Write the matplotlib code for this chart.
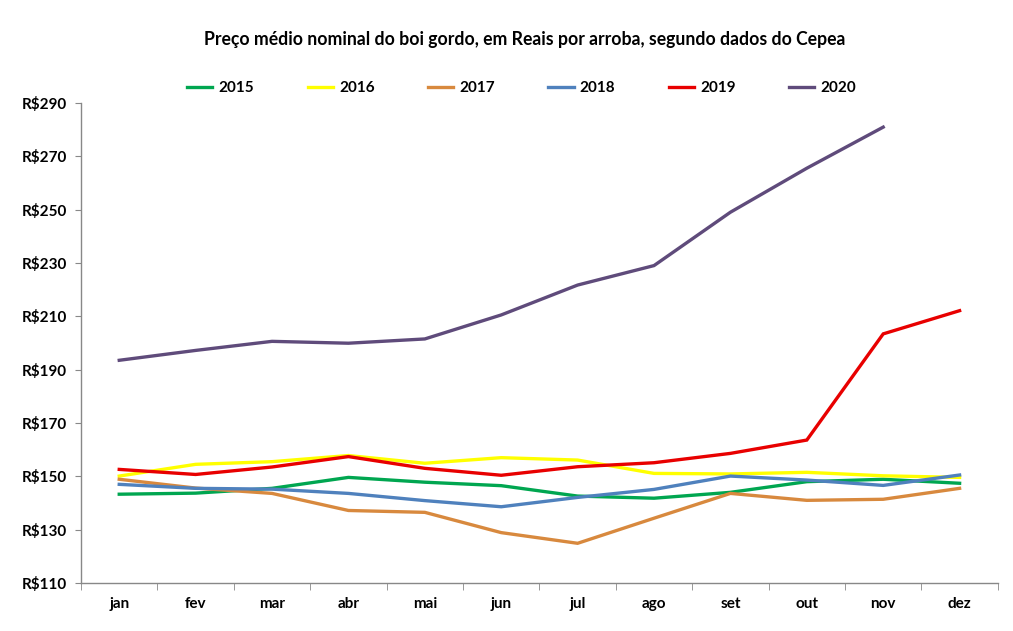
import numpy as np
import matplotlib
matplotlib.use("Agg")
import matplotlib.pyplot as plt
from matplotlib.ticker import FixedLocator

plt.rcParams['font.family'] = ['Lato', 'DejaVu Sans']

months = ['jan', 'fev', 'mar', 'abr', 'mai', 'jun', 'jul', 'ago', 'set', 'out', 'nov', 'dez']

p2015 = [143.3, 143.7, 145.5, 149.6, 147.8, 146.5, 142.6, 141.8, 144.0, 148.0, 148.9, 147.4]
p2016 = [150.1, 154.5, 155.5, 157.8, 154.9, 157.0, 156.1, 151.1, 150.9, 151.5, 150.2, 149.6]
p2017 = [148.9, 145.6, 143.6, 137.2, 136.5, 128.9, 124.9, 134.3, 143.6, 141.0, 141.4, 145.5]
p2018 = [147.0, 145.5, 145.2, 143.6, 140.9, 138.6, 142.1, 145.1, 150.1, 148.6, 146.6, 150.5]
p2019 = [152.6, 150.7, 153.5, 157.4, 153.0, 150.4, 153.6, 155.1, 158.6, 163.6, 203.4, 212.1]
p2020 = [193.5, 197.2, 200.6, 199.9, 201.5, 210.5, 221.7, 229.0, 249.0, 265.5, 280.9]

series = [
    ('2015', p2015, '#00A650'),
    ('2016', p2016, '#FFFF00'),
    ('2017', p2017, '#D8893E'),
    ('2018', p2018, '#4F81BD'),
    ('2019', p2019, '#E80000'),
    ('2020', p2020, '#5F4B7B'),
]

yticks = [110, 130, 150, 170, 190, 210, 230, 250, 270, 290]

fig = plt.figure(figsize=(10.13, 6.31), dpi=100)
ax = fig.add_axes([0.08, 0.076, 0.905, 0.761])

for name, vals, color in series:
    ax.plot(np.arange(len(vals)), vals, color=color, lw=2.4, label=name,
            solid_joinstyle='miter')

ax.set_xlim(-0.5, 11.5)
ax.set_ylim(110, 290)
ax.set_xticks(np.arange(12))
ax.set_xticklabels(months, fontsize=11, fontweight='bold')
ax.xaxis.set_minor_locator(FixedLocator(np.arange(-0.5, 12, 1)))
ax.tick_params(axis='x', which='major', length=0, pad=10)
ax.tick_params(axis='x', which='minor', length=5, color='#888888', direction='out')
ax.set_yticks(yticks)
ax.set_yticklabels(['R$%d' % v for v in yticks], fontsize=11, fontweight='bold')
ax.tick_params(axis='y', length=4, color='#888888', direction='out', pad=6)

for s in ['top', 'right']:
    ax.spines[s].set_visible(False)
for s in ['left', 'bottom']:
    ax.spines[s].set_color('#888888')
    ax.spines[s].set_linewidth(1.0)

fig.text(0.518, 0.937, 'Preço médio nominal do boi gordo, em Reais por arroba, segundo dados do Cepea',
         ha='center', va='center', fontsize=12.7, fontweight='bold')

fig.legend(loc='center', bbox_to_anchor=(0.515, 0.860), ncol=6, frameon=False,
           prop={'weight': 'bold', 'size': 11}, handlelength=1.65, handletextpad=0.4,
           columnspacing=3.5)

fig.savefig('out.png', dpi=100)
